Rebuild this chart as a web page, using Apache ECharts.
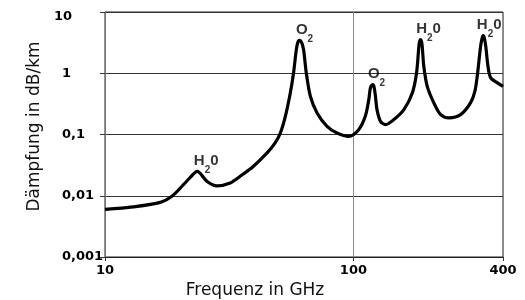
<!DOCTYPE html>
<html>
<head>
<meta charset="utf-8">
<style>
  html, body { margin: 0; padding: 0; background: #fff; }
  #chart { width: 525px; height: 300px; }
</style>
<script src="https://cdn.jsdelivr.net/npm/echarts@6/dist/echarts.min.js"></script>
</head>
<body>
<div id="chart"></div>
<script>
// frequency (GHz) and attenuation (dB/km)
const freqGHz = [
  10, 13.0, 16.7, 18.6, 20.7, 22.0, 23.5, 25.7, 28.2, 31.9,
  35.0, 39.6, 44.9, 48.4, 50.8, 53.2, 55.7, 57.4, 58.9, 59.7,
  60.7, 61.9, 63.0, 64.6, 67.1, 71.4, 78.3, 85.9, 95.7, 105,
  111.6, 115.3, 117.1, 119.4, 121.0, 122.7, 124.4, 128.5, 134.6, 145.4,
  159.6, 172.6, 179.5, 183.4, 184.5, 186.2, 188.0, 189.2, 192.0, 198.2,
  210.7, 224.4, 242.3, 270, 296, 308, 315, 325, 329.6, 333,
  336.6, 341, 348, 357, 380, 400
]
const attenuation = [
  0.006, 0.0066, 0.0078, 0.0098, 0.0152, 0.0198, 0.025, 0.0173, 0.0145, 0.0162,
  0.0208, 0.0303, 0.050, 0.073, 0.106, 0.198, 0.477, 1.01, 2.43, 3.16,
  3.44, 3.16, 2.43, 1.01, 0.42, 0.225, 0.136, 0.106, 0.0935, 0.120,
  0.198, 0.371, 0.582, 0.652, 0.604, 0.415, 0.255, 0.164, 0.145, 0.175,
  0.255, 0.477, 1.01, 2.75, 3.28, 3.53, 3.28, 2.75, 1.30, 0.61,
  0.328, 0.211, 0.187, 0.211, 0.328, 0.5, 0.89, 2.75, 3.74, 4.1,
  3.74, 2.75, 1.30, 0.84, 0.695, 0.61
]

// absorption lines
const lineFreq = [23.5, 60.7, 119.4, 186.2, 333]
const lineValue = [0.025, 3.44, 0.652, 3.53, 4.1]
const lineMain = ['H', 'O', 'O', 'H', 'H']
const lineSub = ['2', '2', '2', '2', '2']
const lineTail = ['0', '', '', '0', '0']

const xTicks = [10, 100, 400]
const yTickLabels = ['0,001', '0,01', '0,1', '1', '10']

const labelNudge = [9, 5, 4, 8, 6]

const chart = echarts.init(document.getElementById('chart'))

chart.setOption({
  animation: false,
  grid: {
    left: 105,
    right: 22,
    top: 12,
    bottom: 43,
    containLabel: false,
    outerBoundsMode: 'none',
    show: true,
    borderColor: '#222',
    borderWidth: 1
  },
  xAxis: {
    type: 'log',
    logBase: 10,
    min: 10,
    max: 400,
    name: 'Frequenz in GHz',
    nameLocation: 'middle',
    nameGap: 22,
    nameTextStyle: {
      fontFamily: 'DejaVu Sans',
      fontSize: 17,
      color: '#111',
      padding: [0, 98, 0, 0]
    },
    axisLine: { show: true, lineStyle: { color: '#222' } },
    axisTick: {
      show: true,
      length: 4,
      customValues: xTicks,
      lineStyle: { color: '#333' }
    },
    axisLabel: {
      customValues: xTicks,
      margin: 7,
      fontFamily: 'DejaVu Sans',
      fontWeight: 'bold',
      fontSize: 13,
      color: '#000'
    },
    splitLine: { show: true, lineStyle: { color: '#888', width: 1 } },
    minorTick: { show: false },
    minorSplitLine: { show: false }
  },
  yAxis: {
    type: 'log',
    logBase: 10,
    min: 0.001,
    max: 10,
    name: 'Dämpfung in dB/km',
    nameLocation: 'middle',
    nameRotate: 90,
    nameGap: 62,
    nameTextStyle: {
      fontFamily: 'DejaVu Sans',
      fontSize: 17,
      color: '#111',
      padding: [0, 0, 0, 16]
    },
    axisLine: { show: true, lineStyle: { color: '#777' } },
    axisTick: { show: true, length: 5, lineStyle: { color: '#333' } },
    axisLabel: {
      align: 'left',
      margin: 51,
      formatter: function (v) {
        const i = Math.round(Math.log10(v)) + 3
        const txt = yTickLabels[i]
        return i === 4 ? '{top|' + txt + '}' : '{n|' + txt + '}'
      },
      rich: {
        n: {
          fontFamily: 'DejaVu Sans', fontWeight: 'bold', fontSize: 13,
          color: '#000', padding: [0, 0, 0, 8]
        },
        top: {
          fontFamily: 'DejaVu Sans', fontWeight: 'bold', fontSize: 13,
          color: '#000', padding: [10, 0, 0, 0]
        }
      }
    },
    splitLine: { show: true, lineStyle: { color: '#333', width: 1 } }
  },
  series: [
    {
      type: 'line',
      data: freqGHz.map((f, i) => [f, attenuation[i]]),
      showSymbol: false,
      smooth: 0.3,
      lineStyle: { color: '#000', width: 3.2 },
      z: 3
    },
    {
      type: 'scatter',
      symbolSize: 0,
      silent: true,
      data: lineFreq.map((f, i) => ({
        value: [f, lineValue[i]],
        label: {
          offset: [labelNudge[i], 4],
          formatter: '{b|' + lineMain[i] + '}{s|' + lineSub[i] + '}' +
            (lineTail[i] ? '{b|' + lineTail[i] + '}' : '')
        }
      })),
      label: {
        show: true,
        position: 'top',
        distance: 0,
        rich: {
          b: {
            fontFamily: 'Liberation Sans Narrow, Liberation Sans',
            fontWeight: 'bold', fontSize: 15, lineHeight: 22,
            verticalAlign: 'top', color: '#000'
          },
          s: {
            fontFamily: 'Liberation Sans Narrow, Liberation Sans',
            fontWeight: 'bold', fontSize: 10, lineHeight: 10,
            verticalAlign: 'bottom', color: '#000'
          }
        }
      },
      z: 4
    }
  ]
})
</script>
</body>
</html>
